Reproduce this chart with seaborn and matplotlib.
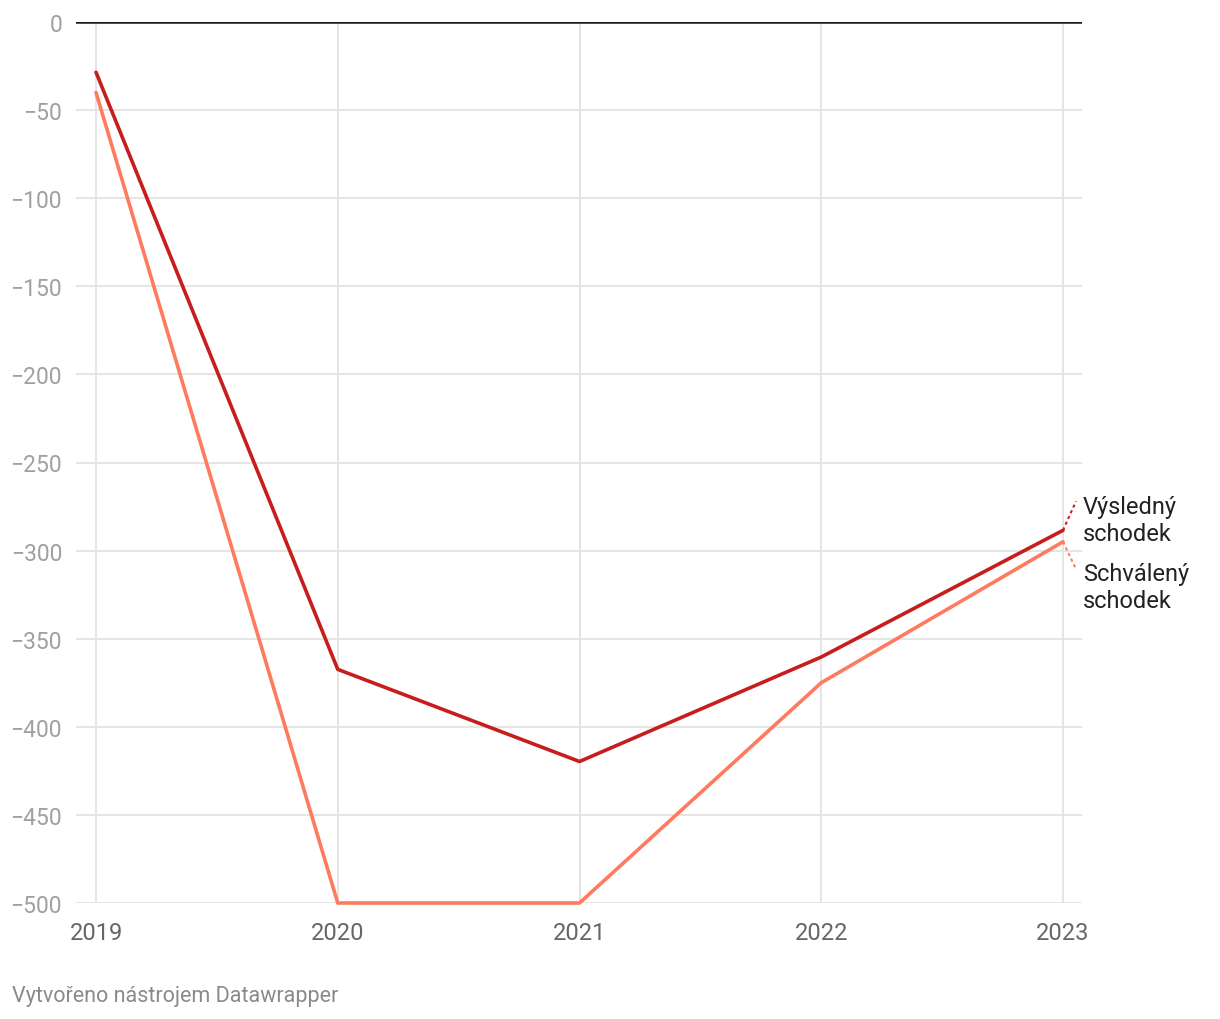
"""
Czech state budget deficit: approved vs. actual (bn CZK), 2019-2023
"""

import numpy as np
import pandas as pd
import matplotlib
matplotlib.use('Agg')
import matplotlib.pyplot as plt
import seaborn as sns

# Data
years = [2019, 2020, 2021, 2022, 2023]
vysledny = [-28.5, -367.4, -419.7, -360.4, -288.5]
schvaleny = [-40, -500, -500, -375, -295]
series_names = ['Výsledný schodek', 'Schválený schodek']
y_ticks = [0, -50, -100, -150, -200, -250, -300, -350, -400, -450, -500]

colors = {'Výsledný schodek': '#c71e1d', 'Schválený schodek': '#ff7b5f'}

df = pd.DataFrame({
    'rok': years * 2,
    'hodnota': vysledny + schvaleny,
    'serie': [series_names[0]] * len(years) + [series_names[1]] * len(years),
})

sns.set_theme(style='white')
plt.rcParams['font.family'] = ['Roboto', 'DejaVu Sans']

fig = plt.figure(figsize=(12.2, 10.2), dpi=100)
ax = fig.add_axes([76 / 1220, 1 - 904 / 1020, (1082 - 76) / 1220, (904 - 23) / 1020])
px = 1 / 241.75  # one pixel in x data units

# Gridlines
for t in y_ticks[1:]:
    ax.axhline(t, color='#e3e3e3', lw=1.3, zorder=0)
for yr in years:
    ax.axvline(yr, color='#e3e3e3', lw=1.3, zorder=0)
ax.axhline(0, color='#1a1a1a', lw=1.8, zorder=3)

sns.lineplot(data=df, x='rok', y='hodnota', hue='serie', hue_order=series_names[::-1],
             palette=colors, lw=2.6, legend=False, ax=ax, clip_on=False, zorder=4)

ax.set_xlim(2019 - 20 * px, 2023 + 19 * px)
ax.set_ylim(-500, 0)
for s in ax.spines.values():
    s.set_visible(False)

ax.set_xticks(years)
ax.set_xticklabels([str(y) for y in years], fontsize=17, color='#666666')
ax.set_yticks(y_ticks)
ax.set_yticklabels([str(t).replace('-', '\u2212') for t in y_ticks], fontsize=16.5, color='#a0a0a0')
ax.tick_params(axis='x', length=0, pad=13)
ax.tick_params(axis='y', length=0, pad=10)
ax.set_xlabel('')
ax.set_ylabel('')

# Line labels with dotted leaders
last = years[-1]
ax.plot([last, last + 13 * px], [vysledny[-1], vysledny[-1] + 16.5], ls=(0, (1.5, 1.5)), lw=1.5,
        color=colors['Výsledný schodek'], clip_on=False)
ax.plot([last, last + 13 * px], [schvaleny[-1], schvaleny[-1] - 15.5], ls=(0, (1.5, 1.5)), lw=1.5,
        color=colors['Schválený schodek'], clip_on=False)
ax.text(last + 20 * px, -282.5, 'Výsledný\nschodek', fontsize=17, color='#222222',
        va='center', ha='left', linespacing=1.2, clip_on=False)
ax.text(last + 20 * px, -320.5, 'Schválený\nschodek', fontsize=17, color='#222222',
        va='center', ha='left', linespacing=1.2, clip_on=False)

fig.text(12 / 1220, 1 - 997 / 1020, 'Vytvořeno nástrojem Datawrapper', fontsize=15.5,
         color='#8a8a8a', va='center', ha='left')

fig.savefig('out.png', dpi=100)
